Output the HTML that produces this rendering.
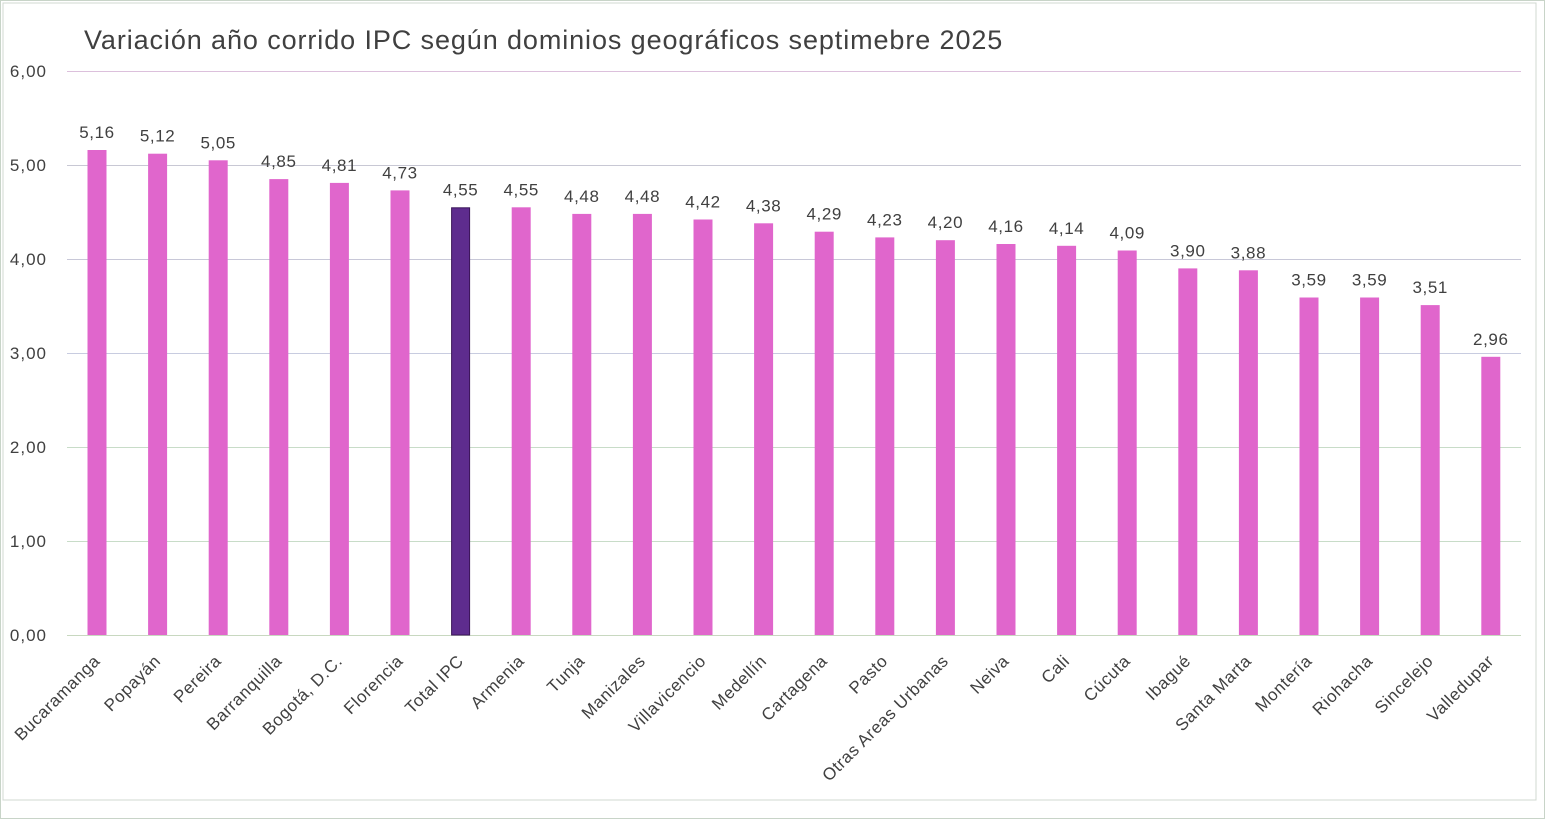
<!DOCTYPE html>
<html><head><meta charset="utf-8"><style>
html,body{margin:0;padding:0;background:#fff;}
svg{display:block;font-family:"Liberation Sans",sans-serif;}
</style></head><body>
<svg width="1545" height="819" viewBox="0 0 1545 819" xmlns="http://www.w3.org/2000/svg">
<rect x="0.5" y="0.5" width="1544" height="818" fill="#fff" stroke="#c8d4c8"/>
<rect x="3" y="3" width="1533" height="797" fill="none" stroke="#d0d8d0"/>
<text x="84" y="49" font-size="27" letter-spacing="0.9" fill="#404040">Variación año corrido IPC según dominios geográficos septimebre  2025</text>
<g stroke-width="1">
<line x1="67" x2="1521" y1="71.5" y2="71.5" stroke="#dcc0dc"/>
<line x1="67" x2="1521" y1="165.5" y2="165.5" stroke="#c8c8d4"/>
<line x1="67" x2="1521" y1="259.5" y2="259.5" stroke="#c8c8d8"/>
<line x1="67" x2="1521" y1="353.5" y2="353.5" stroke="#c8cce0"/>
<line x1="67" x2="1521" y1="447.5" y2="447.5" stroke="#c8dcc8"/>
<line x1="67" x2="1521" y1="541.5" y2="541.5" stroke="#c8dcc8"/>
<line x1="67" x2="1521" y1="635.5" y2="635.5" stroke="#c8d8c0"/>
</g>
<g font-size="17" letter-spacing="1" fill="#404040" text-anchor="end">
<text x="47" y="77">6,00</text>
<text x="47" y="171">5,00</text>
<text x="47" y="265">4,00</text>
<text x="47" y="359">3,00</text>
<text x="47" y="453">2,00</text>
<text x="47" y="547">1,00</text>
<text x="47" y="641">0,00</text>
</g>
<g font-size="17" fill="#404040" letter-spacing="0.6">
<g transform="translate(97,0)"><rect x="-9.5" y="150" width="19" height="485" fill="#e066cc"/><text x="0" y="138" text-anchor="middle">5,16</text><text transform="translate(4,662) rotate(-45)" text-anchor="end">Bucaramanga</text></g>
<g transform="translate(157.6,0)"><rect x="-9.5" y="153.7" width="19" height="481.3" fill="#e066cc"/><text x="0" y="141.7" text-anchor="middle">5,12</text><text transform="translate(4,662) rotate(-45)" text-anchor="end">Popayán</text></g>
<g transform="translate(218.2,0)"><rect x="-9.5" y="160.3" width="19" height="474.7" fill="#e066cc"/><text x="0" y="148.3" text-anchor="middle">5,05</text><text transform="translate(4,662) rotate(-45)" text-anchor="end">Pereira</text></g>
<g transform="translate(278.8,0)"><rect x="-9.5" y="179.1" width="19" height="455.9" fill="#e066cc"/><text x="0" y="167.1" text-anchor="middle">4,85</text><text transform="translate(4,662) rotate(-45)" text-anchor="end">Barranquilla</text></g>
<g transform="translate(339.4,0)"><rect x="-9.5" y="182.9" width="19" height="452.1" fill="#e066cc"/><text x="0" y="170.9" text-anchor="middle">4,81</text><text transform="translate(4,662) rotate(-45)" text-anchor="end">Bogotá, D.C.</text></g>
<g transform="translate(400,0)"><rect x="-9.5" y="190.4" width="19" height="444.6" fill="#e066cc"/><text x="0" y="178.4" text-anchor="middle">4,73</text><text transform="translate(4,662) rotate(-45)" text-anchor="end">Florencia</text></g>
<g transform="translate(460.6,0)"><rect x="-9" y="207.8" width="18" height="427.2" fill="#5e2c8e" stroke="#3a1458" stroke-width="1"/><text x="0" y="195.3" text-anchor="middle">4,55</text><text transform="translate(4,662) rotate(-45)" text-anchor="end">Total IPC</text></g>
<g transform="translate(521.2,0)"><rect x="-9.5" y="207.3" width="19" height="427.7" fill="#e066cc"/><text x="0" y="195.3" text-anchor="middle">4,55</text><text transform="translate(4,662) rotate(-45)" text-anchor="end">Armenia</text></g>
<g transform="translate(581.8,0)"><rect x="-9.5" y="213.9" width="19" height="421.1" fill="#e066cc"/><text x="0" y="201.9" text-anchor="middle">4,48</text><text transform="translate(4,662) rotate(-45)" text-anchor="end">Tunja</text></g>
<g transform="translate(642.4,0)"><rect x="-9.5" y="213.9" width="19" height="421.1" fill="#e066cc"/><text x="0" y="201.9" text-anchor="middle">4,48</text><text transform="translate(4,662) rotate(-45)" text-anchor="end">Manizales</text></g>
<g transform="translate(703,0)"><rect x="-9.5" y="219.5" width="19" height="415.5" fill="#e066cc"/><text x="0" y="207.5" text-anchor="middle">4,42</text><text transform="translate(4,662) rotate(-45)" text-anchor="end">Villavicencio</text></g>
<g transform="translate(763.6,0)"><rect x="-9.5" y="223.3" width="19" height="411.7" fill="#e066cc"/><text x="0" y="211.3" text-anchor="middle">4,38</text><text transform="translate(4,662) rotate(-45)" text-anchor="end">Medellín</text></g>
<g transform="translate(824.2,0)"><rect x="-9.5" y="231.7" width="19" height="403.3" fill="#e066cc"/><text x="0" y="219.7" text-anchor="middle">4,29</text><text transform="translate(4,662) rotate(-45)" text-anchor="end">Cartagena</text></g>
<g transform="translate(884.8,0)"><rect x="-9.5" y="237.4" width="19" height="397.6" fill="#e066cc"/><text x="0" y="225.4" text-anchor="middle">4,23</text><text transform="translate(4,662) rotate(-45)" text-anchor="end">Pasto</text></g>
<g transform="translate(945.4,0)"><rect x="-9.5" y="240.2" width="19" height="394.8" fill="#e066cc"/><text x="0" y="228.2" text-anchor="middle">4,20</text><text transform="translate(4,662) rotate(-45)" text-anchor="end">Otras Areas Urbanas</text></g>
<g transform="translate(1006,0)"><rect x="-9.5" y="244" width="19" height="391" fill="#e066cc"/><text x="0" y="232" text-anchor="middle">4,16</text><text transform="translate(4,662) rotate(-45)" text-anchor="end">Neiva</text></g>
<g transform="translate(1066.6,0)"><rect x="-9.5" y="245.8" width="19" height="389.2" fill="#e066cc"/><text x="0" y="233.8" text-anchor="middle">4,14</text><text transform="translate(4,662) rotate(-45)" text-anchor="end">Cali</text></g>
<g transform="translate(1127.2,0)"><rect x="-9.5" y="250.5" width="19" height="384.5" fill="#e066cc"/><text x="0" y="238.5" text-anchor="middle">4,09</text><text transform="translate(4,662) rotate(-45)" text-anchor="end">Cúcuta</text></g>
<g transform="translate(1187.8,0)"><rect x="-9.5" y="268.4" width="19" height="366.6" fill="#e066cc"/><text x="0" y="256.4" text-anchor="middle">3,90</text><text transform="translate(4,662) rotate(-45)" text-anchor="end">Ibagué</text></g>
<g transform="translate(1248.4,0)"><rect x="-9.5" y="270.3" width="19" height="364.7" fill="#e066cc"/><text x="0" y="258.3" text-anchor="middle">3,88</text><text transform="translate(4,662) rotate(-45)" text-anchor="end">Santa Marta</text></g>
<g transform="translate(1309,0)"><rect x="-9.5" y="297.5" width="19" height="337.5" fill="#e066cc"/><text x="0" y="285.5" text-anchor="middle">3,59</text><text transform="translate(4,662) rotate(-45)" text-anchor="end">Montería</text></g>
<g transform="translate(1369.6,0)"><rect x="-9.5" y="297.5" width="19" height="337.5" fill="#e066cc"/><text x="0" y="285.5" text-anchor="middle">3,59</text><text transform="translate(4,662) rotate(-45)" text-anchor="end">Riohacha</text></g>
<g transform="translate(1430.2,0)"><rect x="-9.5" y="305.1" width="19" height="329.9" fill="#e066cc"/><text x="0" y="293.1" text-anchor="middle">3,51</text><text transform="translate(4,662) rotate(-45)" text-anchor="end">Sincelejo</text></g>
<g transform="translate(1490.8,0)"><rect x="-9.5" y="356.8" width="19" height="278.2" fill="#e066cc"/><text x="0" y="344.8" text-anchor="middle">2,96</text><text transform="translate(4,662) rotate(-45)" text-anchor="end">Valledupar</text></g>
</g>
</svg>
</body></html>
